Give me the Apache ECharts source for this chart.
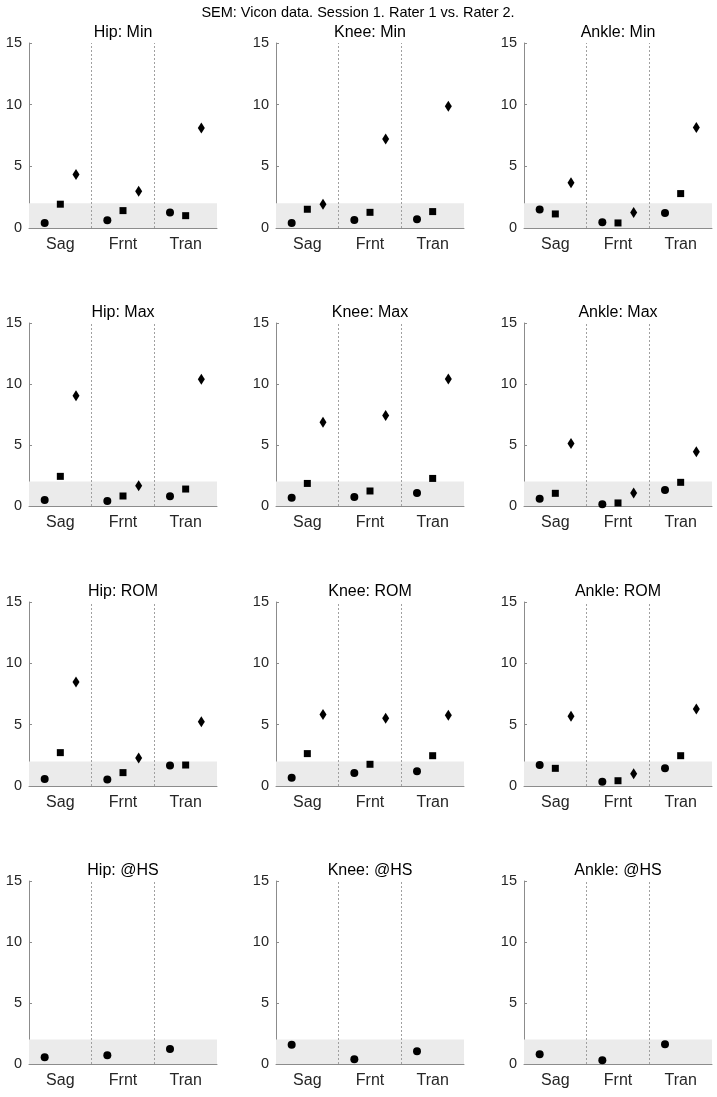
<!DOCTYPE html>
<html>
<head>
<meta charset="utf-8">
<script src="https://cdn.jsdelivr.net/npm/echarts@6/dist/echarts.min.js"></script>
<style>
html,body{margin:0;padding:0;background:#fff;}
#chart{width:717px;height:1097px;}
</style>
</head>
<body>
<div id="chart"></div>
<script>
// ---- Data ----
const mainTitle = 'SEM: Vicon data. Session 1. Rater 1 vs. Rater 2.';
const categories = ['Sag', 'Frnt', 'Tran'];
const yTicks = [0, 5, 10, 15];
const bandMax = 2;

// each panel: [circle values], [square values], [diamond values] for Sag, Frnt, Tran
const hipMin     = [[0.41, 0.62, 1.25], [1.93, 1.41, 1.00], [4.34, 2.98, 8.11]];
const kneeMin    = [[0.41, 0.65, 0.70], [1.52, 1.27, 1.33], [1.93, 7.21, 9.87]];
const ankleMin   = [[1.49, 0.46, 1.22], [1.14, 0.41, 2.79], [3.66, 1.25, 8.14]];
const hipMax     = [[0.49, 0.41, 0.79], [2.43, 0.82, 1.39], [9.03, 1.66, 10.39]];
const kneeMax    = [[0.68, 0.74, 1.06], [1.85, 1.23, 2.26], [6.87, 7.42, 10.42]];
const ankleMax   = [[0.60, 0.14, 1.31], [1.04, 0.25, 1.94], [5.13, 1.06, 4.45]];
const hipROM     = [[0.57, 0.54, 1.68], [2.72, 1.09, 1.71], [8.48, 2.28, 5.24]];
const kneeROM    = [[0.68, 1.06, 1.20], [2.64, 1.77, 2.47], [5.82, 5.52, 5.76]];
const ankleROM   = [[1.71, 0.35, 1.44], [1.44, 0.43, 2.47], [5.68, 1.00, 6.28]];
const hipHS      = [[0.55, 0.71, 1.23]];
const kneeHS     = [[1.58, 0.38, 1.04]];
const ankleHS    = [[0.79, 0.30, 1.61]];

const panelTitles = ['Hip: Min', 'Knee: Min', 'Ankle: Min',
                     'Hip: Max', 'Knee: Max', 'Ankle: Max',
                     'Hip: ROM', 'Knee: ROM', 'Ankle: ROM',
                     'Hip: @HS', 'Knee: @HS', 'Ankle: @HS'];
const panelData = [hipMin, kneeMin, ankleMin,
                   hipMax, kneeMax, ankleMax,
                   hipROM, kneeROM, ankleROM,
                   hipHS, kneeHS, ankleHS];

// ---- Layout / style ----
const colLeft = [29, 276, 524];
const gridW = 188;
const rowTop = [43, 323, 602, 881];
const rowH = [185, 183, 184, 183];
const symbols = ['circle', 'rect', 'diamond'];
const symSizes = [[8, 8], [7, 7], [7, 11]];
const offsets = [-0.25, 0, 0.25];
const FONT = '"Liberation Sans", Arial, Helvetica, sans-serif';
const axisColor = '#8c8c8c';
const textColor = '#262626';

const grids = [], xAxes = [], yAxes = [], series = [], graphics = [];

graphics.push({
  type: 'text', x: 358, y: 13,
  style: { text: mainTitle, fill: '#000', font: '14.5px ' + FONT, align: 'center', verticalAlign: 'middle' }
});

panelData.forEach((pd, i) => {
  const r = Math.floor(i / 3), c = i % 3;
  grids.push({ left: colLeft[c], top: rowTop[r], width: gridW, height: rowH[r], containLabel: false });
  xAxes.push({
    gridIndex: i, type: 'value', min: 0.5, max: 3.5,
    axisLine: { show: true, onZero: false, lineStyle: { color: axisColor, width: 1 } },
    axisTick: { show: true, inside: true, length: 3, customValues: [1, 2, 3], lineStyle: { color: axisColor } },
    axisLabel: { show: true, customValues: [1, 2, 3], formatter: v => categories[Math.round(v) - 1] || '',
      fontSize: 16, color: textColor, fontFamily: FONT, margin: 9 },
    splitLine: { show: false }
  });
  yAxes.push({
    gridIndex: i, type: 'value', min: yTicks[0], max: yTicks[yTicks.length - 1], interval: 5,
    axisLine: { show: true, lineStyle: { color: axisColor, width: 1 } },
    axisTick: { show: true, inside: true, length: 3, lineStyle: { color: axisColor } },
    axisLabel: { fontSize: 14.5, color: textColor, fontFamily: FONT, margin: 7 },
    splitLine: { show: false }
  });
  graphics.push({
    type: 'text', x: colLeft[c] + gridW / 2, y: rowTop[r] - 10,
    style: { text: panelTitles[i], fill: '#000', font: '16px ' + FONT, align: 'center', verticalAlign: 'middle' }
  });
  pd.forEach((vals, k) => {
    const s = {
      type: 'scatter', xAxisIndex: i, yAxisIndex: i,
      symbol: symbols[k], symbolSize: symSizes[k],
      itemStyle: { color: '#000', opacity: 1 },
      silent: true, z: 5,
      data: vals.map((v, j) => [j + 1 + offsets[k], v])
    };
    if (k === 0) {
      s.markArea = {
        silent: true,
        itemStyle: { color: '#ebebeb', opacity: 1 },
        data: [[{ yAxis: 0 }, { yAxis: bandMax }]]
      };
      s.markLine = {
        silent: true, symbol: 'none',
        label: { show: false },
        lineStyle: { type: [2, 2], color: '#a0a0a0', width: 1, opacity: 1 },
        data: [{ xAxis: 1.5 }, { xAxis: 2.5 }]
      };
    }
    series.push(s);
  });
});

const chart = echarts.init(document.getElementById('chart'), null, { renderer: 'canvas' });
chart.setOption({
  animation: false,
  backgroundColor: '#fff',
  grid: grids, xAxis: xAxes, yAxis: yAxes, series: series,
  graphic: graphics
});
</script>
</body>
</html>
